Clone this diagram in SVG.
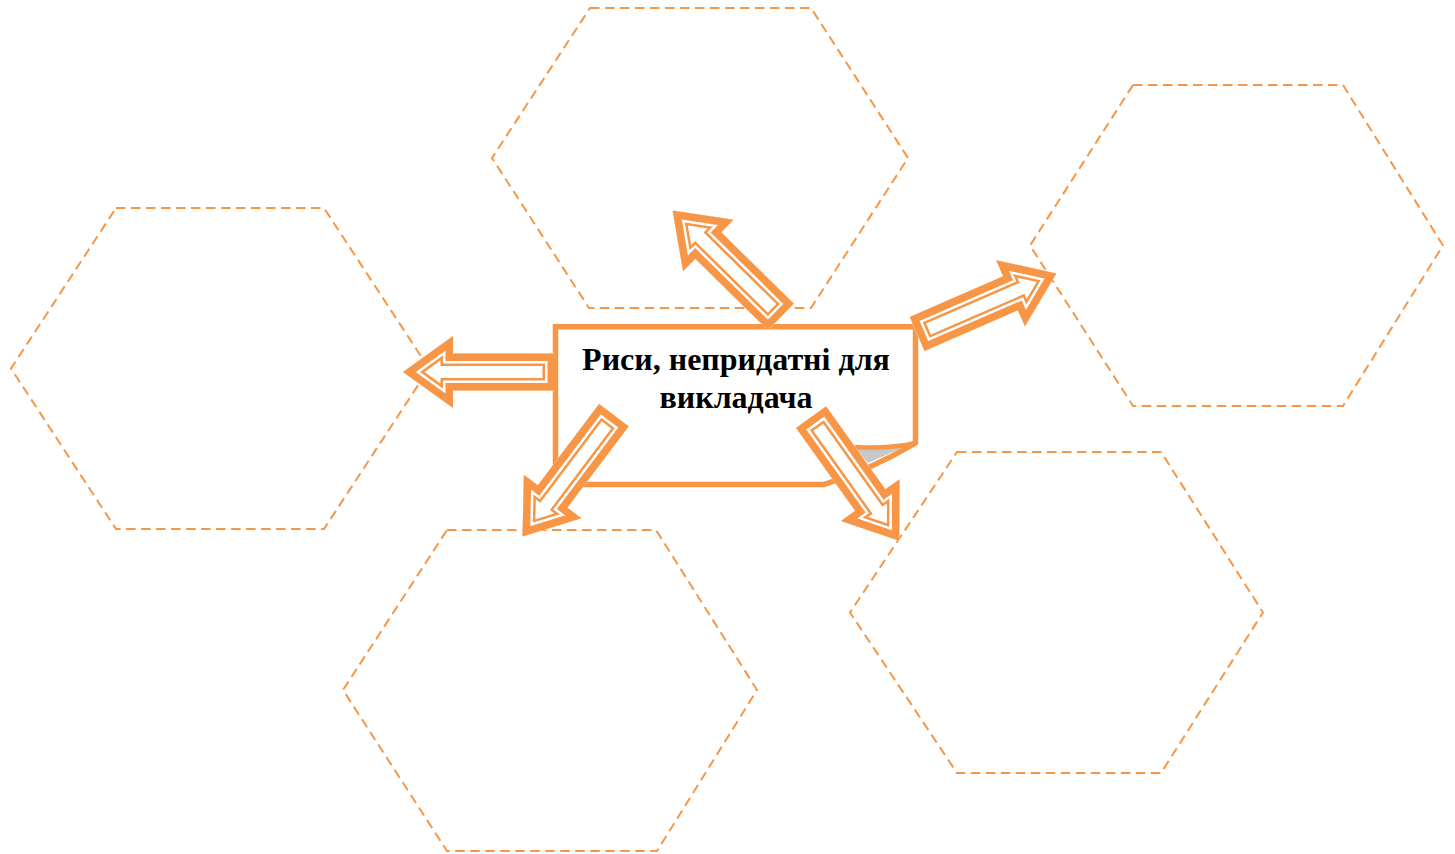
<svg xmlns="http://www.w3.org/2000/svg" xmlns:xlink="http://www.w3.org/1999/xlink" width="1455" height="854" viewBox="0 0 1455 854">
<style>
.hex{fill:none;stroke:#F79646;stroke-width:2;stroke-dasharray:9.5 5.5}
.box{fill:#fff;stroke:#F79646;stroke-width:5.5;stroke-linejoin:miter}
.curl{fill:none;stroke:#F79646;stroke-width:4.5}
.lbl{font-family:"Liberation Serif","Times New Roman",serif;font-weight:bold;font-size:32px;fill:#000;text-anchor:middle}
.pg{font-family:"Liberation Serif","Times New Roman",serif;font-size:27px;fill:#000;text-anchor:middle}
.a-fill{fill:#fff}
.a1{fill:none;stroke:#F79646;stroke-width:25;stroke-linejoin:miter}
.a2{fill:none;stroke:#fff;stroke-width:20;stroke-linejoin:miter}
.a3{fill:none;stroke:#F79646;stroke-width:15;stroke-linejoin:miter}
</style>
<defs>
<polygon id="ar" points="0,-18.5 102,-18.5 102,-36 152,0 102,36 102,18.5 0,18.5"/>
<clipPath id="arClip"><use xlink:href="#ar" href="#ar"/></clipPath>
<g id="arrow">
<use xlink:href="#ar" href="#ar" class="a-fill"/>
<g clip-path="url(#arClip)">
<use xlink:href="#ar" href="#ar" class="a1"/>
<use xlink:href="#ar" href="#ar" class="a2"/>
<use xlink:href="#ar" href="#ar" class="a3"/>
</g>
</g>
</defs>
<rect width="1455" height="854" fill="#fff"/>
<g id="hex-left"><polygon class="hex" points="116,208 324,208 429,368.5 324,529 116,529 11,368.5"/></g>
<g id="hex-top"><polygon class="hex" points="590,8 811,8 908,158 811,308 589,308 492,158"/></g>
<g id="hex-right"><polygon class="hex" points="1133,85 1343,85 1443,245.5 1343,406 1133,406 1030,245.5"/></g>
<g id="hex-bottom-left"><polygon class="hex" points="447,530 656,530 757,690 657,851 447,851 343,690"/></g>
<g id="hex-bottom-right"><polygon class="hex" points="957,452 1161,452 1263,612.5 1161,773 957,773 850,612.5"/></g>
<g id="center">
<path class="box" d="M555.5,326.7 H915.5 V443 Q870,470 824,484.5 H555.5 Z"/>
<polygon points="856,449 904,447 868,463" fill="#c8c8c8"/>
<path class="curl" d="M915.5,443 Q890,449 855,447"/>
<path class="curl" d="M915.5,443 Q870,470 824,484.5"/>
<text class="lbl" x="736" y="370">Риси, непридатні для</text>
<text class="lbl" x="736" y="408">викладача</text>
</g>
<g id="connectors">
<use xlink:href="#arrow" href="#arrow" transform="translate(555,372) rotate(180)"/>
<use xlink:href="#arrow" href="#arrow" transform="translate(781,317) rotate(224.5)"/>
<use xlink:href="#arrow" href="#arrow" transform="translate(917,334) rotate(-23.5)"/>
<use xlink:href="#arrow" href="#arrow" transform="translate(614,415) rotate(127)"/>
<use xlink:href="#arrow" href="#arrow" transform="translate(811,417) rotate(54.5)"/>
</g>
<text class="pg" x="757" y="872">113</text>
</svg>
